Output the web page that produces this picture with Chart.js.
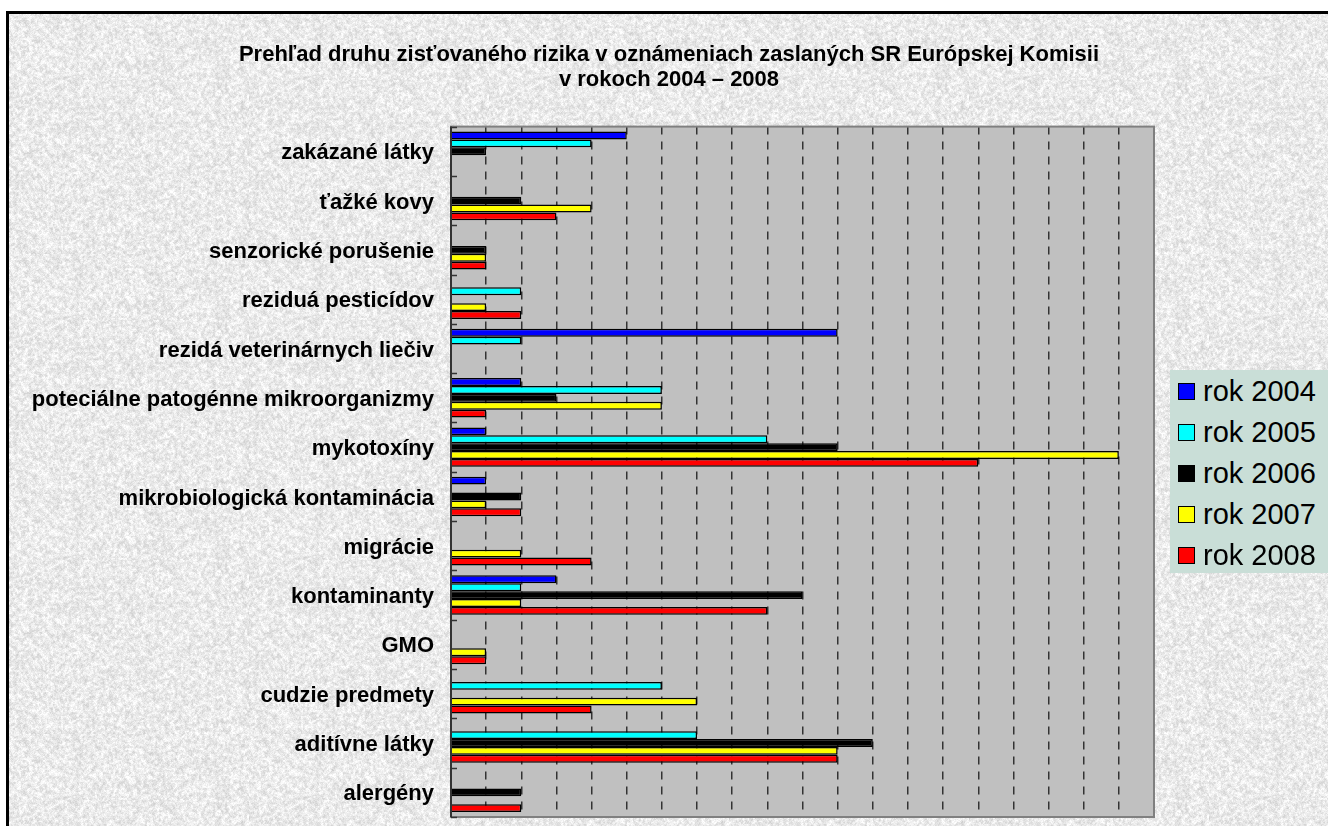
<!DOCTYPE html>
<html lang="sk">
<head>
    <meta charset="UTF-8">
    <title>Prehľad druhu zisťovaného rizika</title>
    <script src="https://cdn.jsdelivr.net/npm/chart.js@4.4.0/dist/chart.umd.min.js"></script>
    <style>
        body { margin: 0; background: #fff; overflow: hidden; width: 1328px; height: 826px; position: relative; }
        #frame { position: absolute; left: 6px; top: 11px; width: 1330px; height: 820px;
                 border-top: 3px solid #000; border-left: 3px solid #000; }
        #chart { position: absolute; left: 0; top: 0; }
        #legend { position: absolute; left: 1170px; top: 370px; width: 170px; height: 203px;
                  background: #c9ded7; padding-top: 1px; box-sizing: border-box;
                  font-family: "Liberation Sans", Arial, sans-serif; font-size: 29px; color: #000; }
        .item { height: 41px; line-height: 41px; position: relative; }
        .item span.box { position: absolute; left: 8px; top: 12px; width: 15px; height: 15px; border: 1.5px solid #000; }
        .item span.txt { position: absolute; left: 33px; top: 0; }
    </style>
</head>
<body>
<div id="frame"></div>
<canvas id="chart" width="1328" height="826"></canvas>
<div id="legend"></div>

<script>
    // categories, top to bottom
    var categories = [
        'zakázané látky',
        'ťažké kovy',
        'senzorické porušenie',
        'reziduá pesticídov',
        'rezidá veterinárnych liečiv',
        'poteciálne patogénne mikroorganizmy',
        'mykotoxíny',
        'mikrobiologická kontaminácia',
        'migrácie',
        'kontaminanty',
        'GMO',
        'cudzie predmety',
        'aditívne látky',
        'alergény'
    ];

    var seriesNames = ['rok 2004', 'rok 2005', 'rok 2006', 'rok 2007', 'rok 2008'];
    var rok2004 = [5, 0, 0, 0, 11, 2, 1, 1, 0, 3, 0, 0, 0, 0];
    var rok2005 = [4, 0, 0, 2, 2, 6, 9, 0, 0, 2, 0, 6, 7, 0];
    var rok2006 = [1, 2, 1, 0, 0, 3, 11, 2, 0, 10, 0, 0, 12, 2];
    var rok2007 = [0, 4, 1, 1, 0, 6, 19, 1, 2, 2, 1, 7, 11, 0];
    var rok2008 = [0, 3, 1, 2, 0, 1, 15, 2, 4, 9, 1, 4, 11, 2];

    var colors = ['#0000ff', '#00ffff', '#000000', '#ffff00', '#ff0000'];
    var allSeries = [rok2004, rok2005, rok2006, rok2007, rok2008];

    // granite-like background texture
    function makeTexture() {
        var seed = 12345;
        function rnd() { seed = (seed * 1103515245 + 12345) % 2147483648; return seed / 2147483648; }
        var small = document.createElement('canvas');
        small.width = 120; small.height = 120;
        var sctx = small.getContext('2d');
        var img = sctx.createImageData(120, 120);
        for (var i = 0; i < 120 * 120; i++) {
            var v = 236 + Math.floor((rnd() - 0.5) * 44);
            img.data[i * 4] = v; img.data[i * 4 + 1] = v; img.data[i * 4 + 2] = v; img.data[i * 4 + 3] = 255;
        }
        sctx.putImageData(img, 0, 0);
        var tile = document.createElement('canvas');
        tile.width = 240; tile.height = 240;
        var tctx = tile.getContext('2d');
        tctx.imageSmoothingEnabled = true;
        tctx.drawImage(small, 0, 0, 240, 240);
        var big = tctx.getImageData(0, 0, 240, 240);
        for (var j = 0; j < 240 * 240; j++) {
            var n = Math.floor((rnd() - 0.5) * 22);
            for (var c = 0; c < 3; c++) {
                big.data[j * 4 + c] = Math.max(0, Math.min(255, big.data[j * 4 + c] + n));
            }
        }
        tctx.putImageData(big, 0, 0);
        return tile.toDataURL();
    }
    document.getElementById('frame').style.backgroundImage = 'url(' + makeTexture() + ')';

    // legend
    var legendHtml = '';
    seriesNames.forEach(function(name, i) {
        legendHtml += '<div class="item"><span class="box" style="background:' + colors[i] + '"></span>' +
            '<span class="txt">' + name + '</span></div>';
    });
    document.getElementById('legend').innerHTML = legendHtml;

    var plotArea = {
        id: 'plotArea',
        beforeDraw: function(chart) {
            var a = chart.chartArea, ctx = chart.ctx;
            ctx.save();
            ctx.fillStyle = '#c0c0c0';
            ctx.fillRect(a.left, a.top, a.right - a.left, a.bottom - a.top);
            ctx.restore();
        },
        afterDraw: function(chart) {
            var a = chart.chartArea, ctx = chart.ctx, y = chart.scales.y;
            ctx.save();
            ctx.strokeStyle = '#808080';
            ctx.lineWidth = 2;
            ctx.strokeRect(a.left, a.top, a.right - a.left, a.bottom - a.top);
            ctx.strokeStyle = '#333';
            ctx.beginPath();
            ctx.moveTo(a.left, a.top); ctx.lineTo(a.left, a.bottom);
            ctx.stroke();
            // inside tick marks between categories
            ctx.lineWidth = 1.5;
            ctx.beginPath();
            for (var i = 0; i <= categories.length; i++) {
                var py;
                if (i === 0) py = a.top;
                else if (i === categories.length) py = a.bottom;
                else py = (y.getPixelForTick(i - 1) + y.getPixelForTick(i)) / 2;
                py = Math.round(py) + 0.5;
                ctx.moveTo(a.left, py); ctx.lineTo(a.left + 6, py);
            }
            ctx.stroke();
            ctx.restore();
        }
    };

    var datasets = allSeries.map(function(values, i) {
        return {
            label: seriesNames[i],
            data: values,
            xAxisID: 'x',
            yAxisID: 'y',
            backgroundColor: colors[i],
            borderColor: '#000',
            borderWidth: 1.5,
            categoryPercentage: 0.8,
            barPercentage: 1.0
        };
    });

    var labelFont = { family: '"Liberation Sans", Arial, sans-serif', size: 22, weight: 'bold' };

    var ctx = document.getElementById('chart').getContext('2d');
    new Chart(ctx, {
        type: 'bar',
        data: { labels: categories, datasets: datasets },
        options: {
            indexAxis: 'y',
            responsive: false,
            animation: false,
            devicePixelRatio: 1,
            layout: { padding: { left: 10, right: 0, top: 0, bottom: 9 } },
            plugins: {
                legend: { display: false },
                tooltip: { enabled: false },
                title: {
                    display: true,
                    text: ['Prehľad druhu zisťovaného rizika v oznámeniach zaslaných SR Európskej Komisii',
                           'v rokoch 2004 – 2008'],
                    color: '#000',
                    font: { family: '"Liberation Sans", Arial, sans-serif', size: 22, weight: 'bold', lineHeight: 1.15 },
                    padding: { top: 42, bottom: 34 }
                }
            },
            scales: {
                x: {
                    min: 0,
                    max: 20,
                    ticks: { stepSize: 1, display: false },
                    border: { display: false, dash: [8, 7] },
                    grid: {
                        drawTicks: false,
                        color: function(c) {
                            return (c.tick && (c.tick.value === 0 || c.tick.value === 20)) ? 'rgba(0,0,0,0)' : '#333';
                        },
                        lineWidth: 1.5
                    },
                    afterFit: function(s) { s.height = 0; s.paddingLeft = 0; s.paddingRight = 0; }
                },
                y: {
                    border: { display: false },
                    grid: { display: false, drawTicks: false },
                    ticks: {
                        color: '#000',
                        padding: 17,
                        labelOffset: 2,
                        autoSkip: false,
                        font: labelFont
                    },
                    afterFit: function(s) { s.width = 451 - 10; s.paddingTop = 0; s.paddingBottom = 0; }
                },
                // empty space on the right for the legend
                yRight: {
                    type: 'linear',
                    position: 'right',
                    border: { display: false },
                    grid: { display: false, drawTicks: false },
                    ticks: { display: false },
                    afterFit: function(s) { s.width = 1328 - 1154; s.paddingTop = 0; s.paddingBottom = 0; }
                }
            }
        },
        plugins: [plotArea]
    });
</script>
</body>
</html>
